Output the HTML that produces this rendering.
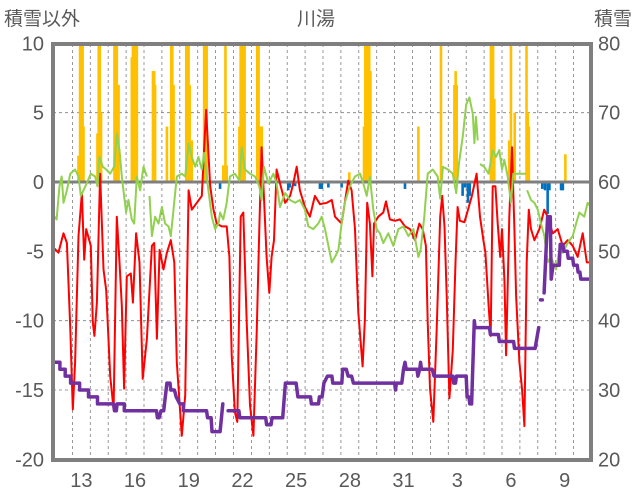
<!DOCTYPE html>
<html><head><meta charset="utf-8"><style>
html,body{margin:0;padding:0;background:#fff;}
svg{display:block;font-family:"Liberation Sans","Noto Sans CJK JP",sans-serif;}
</style></head><body>
<svg id="chart" width="636" height="501" viewBox="0 0 636 501" xmlns="http://www.w3.org/2000/svg">
<text x="4" y="25" font-size="19" fill="#595959" font-family="'Liberation Sans','Noto Sans CJK JP',sans-serif">積雪以外</text>
<text x="316" y="25" font-size="19" fill="#595959" text-anchor="middle" font-family="'Liberation Sans','Noto Sans CJK JP',sans-serif">川湯</text>
<text x="632" y="25" font-size="19" fill="#595959" text-anchor="end" font-family="'Liberation Sans','Noto Sans CJK JP',sans-serif">積雪</text>
<g id="grid"></g><g id="bars"></g><g id="lines"></g><g id="axes"></g>
</svg>
<script>
const xLabels=["13","16","19","22","25","28","31","3","6","9"];
const xLabelDays=[1,4,7,10,13,16,19,22,25,28];
const leftTicks=[10,5,0,-5,-10,-15,-20];
const rightTicks=[80,70,60,50,40,30,20];
const redT=[0,.22,.5,.69,.88,1.02,1.15,1.34,1.53,1.66,1.77,2.03,2.14,2.23,2.37,2.55,2.74,2.89,3.11,3.3,3.48,3.63,3.76,3.89,4.04,4.26,4.38,4.56,4.75,4.93,5.16,5.44,5.57,5.72,5.87,6.09,6.28,6.5,6.69,6.83,7.11,7.3,7.49,7.67,7.95,8.23,8.47,8.7,8.88,9.06,9.34,9.62,9.77,9.9,10.08,10.21,10.4,10.55,10.74,10.92,11.11,11.3,11.44,11.57,11.7,11.85,12,12.13,12.26,12.41,12.6,12.88,13.16,13.34,13.53,13.71,13.99,14.27,14.55,14.83,15.21,15.49,15.67,16.04,16.22,16.41,16.6,16.79,16.97,17.21,17.34,17.47,17.62,17.76,17.85,18.09,18.37,18.52,18.74,19.02,19.3,19.58,19.86,20.14,20.38,20.57,20.75,20.85,20.98,21.16,21.35,21.55,21.66,21.79,21.91,22.06,22.25,22.4,22.52,22.65,22.9,23.08,23.32,23.58,23.77,23.96,24.07,24.25,24.37,24.48,24.63,24.76,24.9,25,25.14,25.23,25.41,25.56,25.69,25.79,25.97,26.12,26.25,26.38,26.5,26.62,26.81,27.09,27.36,27.55,27.83,28.11,28.39,28.67,28.95,29.23,29.51,29.74,29.98];
const redV=[-4.8,-5.1,-3.7,-4.4,-10.6,-16.4,-13,-3.9,-0.8,-5.6,-3.4,-4.6,-10.1,-11.1,-8.7,0.6,-6.3,-7.8,-14,-16.4,-2.5,-5.8,-8.9,-14.9,-6.8,-6.6,-8.7,-3.7,-5.8,-14.2,-11.3,-4.6,-4.4,-11.3,-4.9,-6.3,-5.1,-4.2,-5.8,-13,-18.3,-15.4,-0.6,-2,-1.5,-1,5.2,-0.3,-2,-3,-3.2,-3.2,-5.4,-12.5,-16.6,-17.3,-2.5,-2.2,-10.1,-16.1,-18.3,-10.6,-3.4,2.5,-1,-5.4,-8,-5.4,-4.2,0.9,-0.1,-1.5,-1,-0.1,1.1,-0.6,-1.8,-2.5,-1,-1.6,-1.5,-1.3,-2.5,-3,-1.5,0.1,-0.6,-3.4,-9.4,-13.3,-9.9,-1.5,-3,-6.8,-3,-2.5,-2.2,-1.4,-2.7,-2.8,-2.7,-3.2,-3.4,-4.2,-3,-3.4,-4.6,-10.1,-14.9,-17.3,-10.6,-2.5,-1,-3.2,-8.2,-15.6,-12.1,-5.8,-1.8,-2.8,-2.9,-2.1,-1,0.6,-2.5,-4.2,-5.1,-8.9,-11.1,-0.3,-0.3,-3,-5.4,-3.4,-7.2,-12.5,-2.5,2.5,-3.4,-8.2,-13,-14.9,-17.6,-5.8,-2,-3.4,-4.2,-3.4,-2,-2.5,-3.7,-3.4,-4.6,-4.2,-4.6,-5.4,-3.7,-5.8,-5.8];
const greenT=[0,.12,.28,.4,.5,.69,.88,1.15,1.34,1.47,1.62,1.8,2.03,2.27,2.4,2.51,2.7,2.89,3.11,3.33,3.48,3.63,3.76,4,4.13,4.32,4.45,4.6,4.78,4.97,5.16,null,5.31,5.44,5.62,5.81,6,6.18,6.37,6.5,6.65,6.83,7.11,7.3,7.49,7.67,7.86,8.04,8.23,8.36,8.6,8.79,8.97,9.16,9.25,9.43,9.62,9.8,10.08,10.33,10.46,10.64,10.92,11.2,11.44,11.57,11.7,11.95,12.23,12.41,12.6,12.88,13.16,13.44,13.71,13.99,14.18,14.46,14.74,14.93,15.11,15.3,15.49,15.67,15.86,16.04,16.22,16.5,16.79,17.07,17.25,17.44,17.62,17.81,18,18.18,18.37,18.65,18.93,19.21,19.49,19.77,20.05,20.33,20.45,20.66,20.85,21.13,21.41,21.55,21.7,21.98,22.25,22.44,22.59,22.81,23,23.18,23.37,23.46,23.55,23.64,null,23.77,24,24.25,24.48,24.66,24.85,25,25.13,25.32,25.5,25.63,25.87,26.15,26.34,null,26.4,26.62,26.81,27,27.18,27.37,27.55,27.74,28.02,28.2,28.39,28.67,28.95,29.14,29.32,29.6,29.78,29.98];
const greenV=[-2.5,-2.7,-0.3,0.4,-1.5,-0.6,0.6,0.9,0.4,-1,-0.6,-0.1,0.6,0.4,-0.3,1.8,1.1,0.9,0.6,1.1,3.5,2.3,0.4,-2.2,-1.3,-2.7,-3,0.4,-0.6,1.1,0.4,null,-1,-3.9,-2.5,-3,-1.8,-3,-3.2,-3.9,-2,0.4,0.6,0.4,2.8,1.8,1.1,1.8,0.9,2.1,-0.6,-2.5,-3.4,-3,-2.2,-2.7,-1.5,0.4,0.6,0.1,2.5,0.9,0.6,0.4,-0.3,-1.3,1.1,-0.1,0.6,-0.1,-1.8,-0.8,-1.3,-1.5,-1.3,-2,-3.2,-3.4,-3,-2.5,-3.4,-4.6,-5.8,-5.4,-4.9,-3,-1.5,-0.3,0.4,0.6,-0.1,-1,0.4,-2,-3.4,-3.7,-4.4,-3.7,-4.6,-3.4,-3.2,-3.9,-3.4,-5.4,-4.9,-2.5,0.6,0.9,0.4,-1.2,1.1,0.9,0.6,-0.8,1.3,3.3,5.6,6.1,4.9,2.8,4.7,3,null,1.3,1.1,0.6,2.3,1.8,2.3,0.9,1.6,0.4,-1.5,0.6,0.6,0.6,0.6,null,-0.6,-1.3,-1.5,-2,-3,-3.9,-5.8,-5.4,-6.3,-4.9,-5.1,-4.4,-3.9,-3,-2.2,-2.5,-1.5,-1.8];
const snowT=[0,.3,.3,.6,.6,.9,.9,1.4,1.4,1.9,
 1.9,2.4,2.4,3.3,3.35,3.45,3.5,3.9,3.9,5.7,
 5.75,5.85,5.95,6.1,6.28,6.45,6.5,6.7,6.8,7.0,
 7.2,7.2,8.5,8.55,8.75,8.8,9.25,9.4,null,9.7,
 10.3,10.35,10.6,10.65,11.8,11.85,12.1,12.15,12.75,12.9,
 13.5,13.6,14.3,14.35,14.75,14.8,14.95,15.05,15.25,15.5,
 15.55,16.05,16.1,16.3,16.4,16.6,16.7,19.0,19.05,19.1,
 19.4,19.5,19.58,19.65,20.25,20.3,20.4,20.45,20.5,21.1,
 21.2,22.25,22.3,22.4,22.45,23.0,23.05,23.15,23.2,23.3,
 23.45,23.5,24.3,24.35,24.8,24.85,25.65,25.7,26.85,27.05,
 null,27.15,27.25,null,27.35,27.55,27.7,27.75,27.85,28.2,
 28.25,28.4,28.45,28.65,28.7,28.95,29.0,29.2,29.25,29.35,
 29.4,29.98];
const snowV=[34,34,33,33,32,32,31,31,30,30,
 29,29,28,28,27,27,28,28,27,27,
 26,26,27,27,31,31,30,30,29,28,
 28,27,27,26,26,24,24,28,null,27,
 27,26,26,26,26,25,25,26,26,31,
 31,29,29,28,28,29,29,31,32,32,
 31,31,33,33,32,32,31,31,30,31,
 31,33,34,33,33,32,33,34,33,33,
 32,32,31,31,32,32,29,29,28,28,
 40,39,39,38,38,37,37,36,36,39,
 null,43,43,null,44,55,55,46,48,48,
 51,51,50,50,49,49,48,48,47,47,
 46,46];
const rainT=[1.34,1.43,1.5,1.57,1.62,2.4,2.47,2.53,2.6,3.35,3.42,3.48,3.58,4.32,4.38,4.45,4.52,4.6,5.5,5.57,5.62,6.28,6.52,6.58,6.65,7.36,7.42,7.49,7.55,7.67,8.36,8.43,8.5,9.43,9.55,9.62,10.33,10.4,10.47,10.54,10.62,11.33,11.4,11.5,11.58,16.47,17.29,17.36,17.43,17.5,17.58,17.65,20.33,21.59,22.34,22.41,22.47,24.38,24.44,24.5,24.57,25.4,25.5,25.71,26.37,26.44,26.5,28.54];
const rainV=[1.9,10,10,10,4,3.5,10,10,5,10,10,10,7,9,10,10,10,10,8,8,7,4,10,10,7,10,10,10,7,3,10,10,10,1.2,10,1.2,4,10,10,10,10,10,10,4,4,0.7,4,10,10,10,10,8,4,10,7,8,7,10,10,10,6,3,10,5,10,5,4,2];
const dropT=[9.25,13.06,13.15,13.44,14.83,14.93,15.3,16.04,19.58,22.8,22.95,23.1,23.2,27.25,27.4,27.55,27.65,28.3,28.4];
const dropV=[-0.5,-0.6,-0.4,-0.3,-0.5,-0.5,-0.4,-0.4,-0.5,-1,-0.4,-1.5,-1,-0.5,-0.6,-2.3,-0.6,-0.6,-0.6];

const NS="http://www.w3.org/2000/svg";
const X0=54.5,DX=17.9,TOP=44,BOT=460,L=53,R=591;
function xs(t){return X0+t*DX;}
function yl(v){return 182-v*13.867;}
function yr(s){return 182-(s-60)*6.933;}
function mk(tag,attrs,parent){const e=document.createElementNS(NS,tag);for(const k in attrs)e.setAttribute(k,attrs[k]);parent.appendChild(e);return e;}
const grid=document.getElementById('grid'),bars=document.getElementById('bars'),lines=document.getElementById('lines'),axes=document.getElementById('axes');
for(const v of [5,-5,-10,-15]){
  const g=mk('line',{x1:L,x2:R,y1:yl(v),y2:yl(v),stroke:'#7f7f7f','stroke-width':0.8,'stroke-dasharray':'3,3'},grid);
  
  
}
for(let d=1;d<30;d++){
  const g=mk('line',{x1:xs(d),x2:xs(d),y1:TOP,y2:BOT,stroke:'#7f7f7f','stroke-width':0.8,'stroke-dasharray':'3,3'},grid);
  
  
}
for(let i=0;i<rainT.length;i++){
  const v=Math.min(rainV[i],10);
  const b=mk('rect',{x:xs(rainT[i])-1.3,y:yl(v),width:2.6,height:yl(0)-yl(v),fill:'#ffc000'},bars);
  
  
}
for(let i=0;i<dropT.length;i++){
  const b=mk('rect',{x:xs(dropT[i])-1.3,y:yl(0),width:2.6,height:yl(dropV[i])-yl(0),fill:'#0070c0'},bars);
  
  
}
function pathOf(T,V,yf){let d='',pen=false;for(let i=0;i<T.length;i++){if(T[i]===null||V[i]===null){pen=false;continue;}d+=(pen?'L':'M')+xs(T[i]).toFixed(1)+' '+yf(V[i]).toFixed(1);pen=true;}return d;}
const gz=mk('line',{x1:L,x2:R,y1:yl(0),y2:yl(0),stroke:'#7f7f7f','stroke-width':3},lines);


const pr=mk('path',{d:pathOf(redT,redV,yl),fill:'none',stroke:'#ff0000','stroke-width':2,'stroke-linejoin':'round'},lines);


const pg=mk('path',{d:pathOf(greenT,greenV,yl),fill:'none',stroke:'#92d050','stroke-width':2,'stroke-linejoin':'round'},lines);


const pp=mk('path',{d:pathOf(snowT,snowV,yr),fill:'none',stroke:'#7030a0','stroke-width':3.5,'stroke-linejoin':'round','stroke-linecap':'round'},lines);


const fr=mk('rect',{x:L,y:TOP,width:R-L,height:BOT-TOP,fill:'none',stroke:'#7f7f7f','stroke-width':4},axes);


for(const v of leftTicks){
  const t=mk('text',{x:44,y:yl(v)+7,'font-size':20,fill:'#595959','text-anchor':'end'},axes);t.textContent=v;
  
  
}
for(const s of rightTicks){
  const t=mk('text',{x:598,y:yr(s)+7,'font-size':20,fill:'#595959'},axes);t.textContent=s;
  
  
}
for(let i=0;i<xLabels.length;i++){
  const t=mk('text',{x:xs(xLabelDays[i]+0.5),y:487,'font-size':20,fill:'#595959','text-anchor':'middle'},axes);t.textContent=xLabels[i];
  
  
}
</script>
</body></html>
